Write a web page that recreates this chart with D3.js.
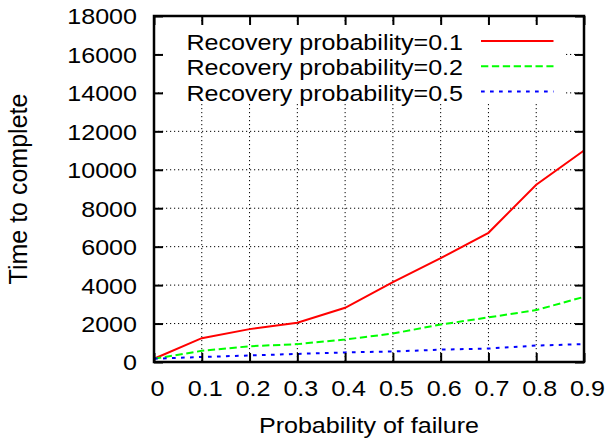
<!DOCTYPE html>
<html>
<head>
<meta charset="utf-8">
<script src="https://cdn.jsdelivr.net/npm/d3@7"></script>
<style>
  html, body { margin: 0; padding: 0; background: #fff; }
  svg { display: block; }
  text { font-family: "Liberation Sans", Arial, Helvetica, sans-serif; fill: #000; }
</style>
</head>
<body>
<svg id="chart" width="607" height="439"></svg>
<script>
// Probability of failure on the x axis
const failureProb = [0, 0.1, 0.2, 0.3, 0.4, 0.5, 0.6, 0.7, 0.8, 0.9];
// Time to complete for each recovery probability
const recovery01 = [170, 1240, 1710, 2040, 2820, 4150, 5400, 6720, 9220, 11000];
const recovery02 = [170, 580, 820, 930, 1170, 1480, 1950, 2320, 2700, 3390];
const recovery05 = [170, 260, 340, 420, 500, 545, 645, 700, 855, 930];

const seriesNames = ["Recovery probability=0.1", "Recovery probability=0.2", "Recovery probability=0.5"];
const xTicks = [0, 0.1, 0.2, 0.3, 0.4, 0.5, 0.6, 0.7, 0.8, 0.9];
const yTicks = [0, 2000, 4000, 6000, 8000, 10000, 12000, 14000, 16000, 18000];
const xTitle = "Probability of failure";
const yTitle = "Time to complete";

const seriesStyles = [
  { color: "#ff0000", dash: null },
  { color: "#00ff00", dash: "7.3,3.6" },
  { color: "#0000ff", dash: "3.7,5.3" }
];

const W = 607, H = 439;
const margin = { left: 154, right: 23, top: 16, bottom: 77 };
const pw = W - margin.left - margin.right;
const ph = H - margin.top - margin.bottom;
const fontSize = 22.8;
const stretch = 1.1;

const svg = d3.select("#chart");
const g = svg.append("g").attr("transform", `translate(${margin.left},${margin.top})`);

const x = d3.scaleLinear().domain([0, 0.9]).range([0, pw]);
const y = d3.scaleLinear().domain([0, 18000]).range([ph, 0]);

// dotted grid
const grid = g.append("g").attr("stroke", "#000").attr("stroke-width", 1)
  .attr("stroke-dasharray", "1.2,2.8").attr("fill", "none");
grid.selectAll("line.gx").data(xTicks.slice(1, -1)).join("line")
  .attr("x1", d => x(d)).attr("x2", d => x(d)).attr("y1", 0).attr("y2", ph);
grid.selectAll("line.gy").data(yTicks.slice(1, -1)).join("line")
  .attr("x1", 0).attr("x2", pw).attr("y1", d => y(d)).attr("y2", d => y(d));

// opaque key background
const keyBox = { x0: 9, x1: 412, y0: 6, y1: 88 };
g.append("rect").attr("x", keyBox.x0).attr("y", keyBox.y0)
  .attr("width", keyBox.x1 - keyBox.x0).attr("height", keyBox.y1 - keyBox.y0)
  .attr("fill", "#fff");

// data lines
const allSeries = [recovery01, recovery02, recovery05];
const line = d3.line().x((d, i) => x(failureProb[i])).y(d => y(d));
allSeries.forEach((vals, k) => {
  g.append("path").datum(vals)
    .attr("d", line)
    .attr("fill", "none")
    .attr("stroke", seriesStyles[k].color)
    .attr("stroke-width", 2)
    .attr("stroke-dasharray", seriesStyles[k].dash);
});

// axes: inward ticks on all four sides
const tickLen = 9;
const axL = g.append("g").call(d3.axisLeft(y).tickValues(yTicks).tickSize(-tickLen).tickFormat(d3.format("d")));
const axR = g.append("g").attr("transform", `translate(${pw},0)`).call(d3.axisRight(y).tickValues(yTicks).tickSize(-tickLen).tickFormat(""));
const axB = g.append("g").attr("transform", `translate(0,${ph})`).call(d3.axisBottom(x).tickValues(xTicks).tickSize(-tickLen).tickFormat(d => d === 0 ? "0" : d3.format(".1f")(d)));
const axT = g.append("g").call(d3.axisTop(x).tickValues(xTicks).tickSize(-tickLen).tickFormat(""));
[axL, axR, axB, axT].forEach(a => {
  a.select(".domain").remove();
  a.selectAll(".tick line").attr("stroke", "#000").attr("stroke-width", 2);
});
axL.selectAll(".tick text")
  .attr("x", null).attr("dy", "0.35em")
  .attr("transform", `translate(-17,0) scale(${stretch},1)`)
  .attr("text-anchor", "end")
  .style("font-size", fontSize + "px");
axB.selectAll(".tick text")
  .attr("y", null).attr("dy", null)
  .attr("transform", `translate(3,34) scale(${stretch},1)`)
  .attr("text-anchor", "middle")
  .style("font-size", fontSize + "px");
[axL, axB].forEach(a => a.attr("font-family", null).attr("font-size", null));

// plot border
g.append("rect").attr("x", 0).attr("y", 0).attr("width", pw).attr("height", ph)
  .attr("fill", "none").attr("stroke", "#000").attr("stroke-width", 2.5);

// axis titles
svg.append("text")
  .attr("transform", `translate(${margin.left + pw / 2},433) scale(${stretch},1)`)
  .attr("text-anchor", "middle")
  .style("font-size", fontSize + "px")
  .text(xTitle);
svg.append("text")
  .attr("transform", `translate(27,${margin.top + ph / 2}) rotate(-90)`)
  .attr("text-anchor", "middle")
  .style("font-size", "25px")
  .text(yTitle);

// key
const key = g.append("g");
seriesNames.forEach((name, k) => {
  const cy = 25 + k * 25.3;
  key.append("text")
    .attr("transform", `translate(309,${cy + 9}) scale(${stretch},1)`)
    .attr("text-anchor", "end")
    .style("font-size", fontSize + "px")
    .text(name);
  key.append("line")
    .attr("x1", 327).attr("x2", 399.5)
    .attr("y1", cy).attr("y2", cy)
    .attr("stroke", seriesStyles[k].color)
    .attr("stroke-width", 2)
    .attr("stroke-dasharray", seriesStyles[k].dash);
});
</script>
</body>
</html>
